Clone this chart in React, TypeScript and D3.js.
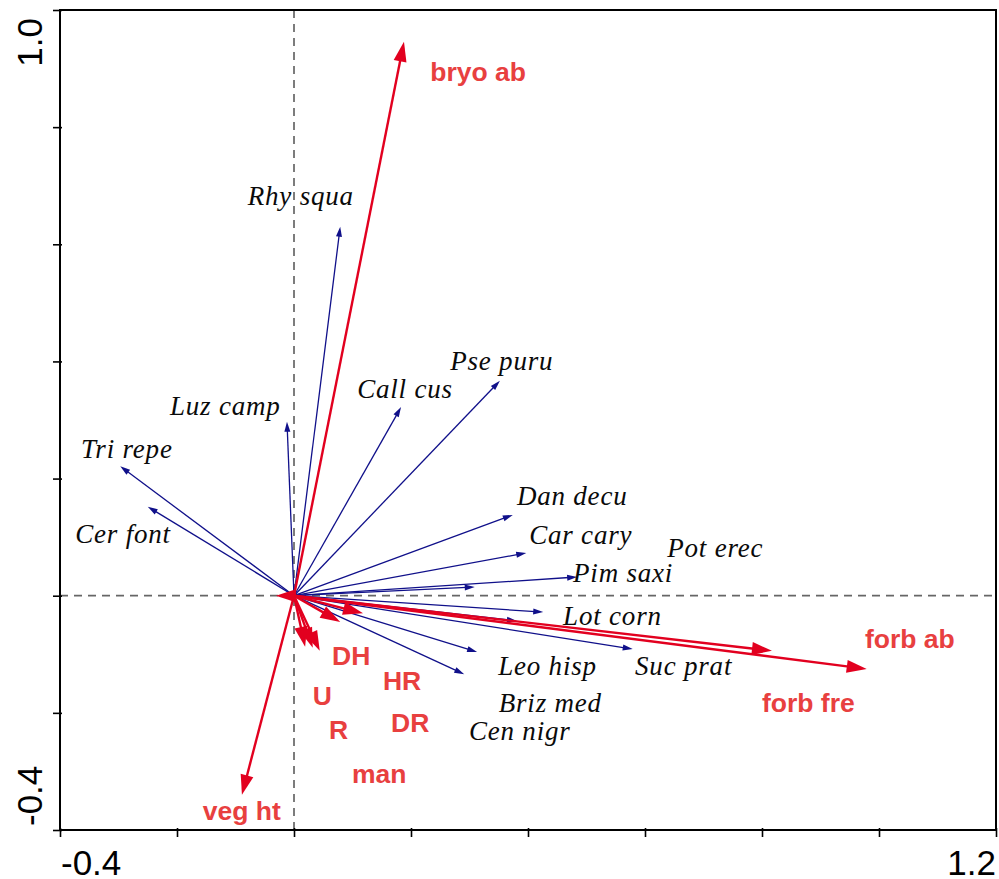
import React, { useEffect, useRef } from 'react'
import * as d3 from 'd3'

// axis ranges and ticks
const xDomain = [-0.4, 1.2]
const yDomain = [-0.4, 1.0]
const xTicks = [-0.4, -0.2, 0, 0.2, 0.4, 0.6, 0.8, 1.0, 1.2]
const yTicks = [-0.4, -0.2, 0, 0.2, 0.4, 0.6, 0.8, 1.0]
const xTickLabels = ['-0.4', '1.2']
const yTickLabels = ['-0.4', '1.0']

// species arrows (tips) and label anchors, in plot units
const spNames = ['Rhy squa', 'Luz camp', 'Tri repe', 'Cer font', 'Call cus', 'Pse puru', 'Dan decu', 'Car cary', 'Pim saxi', 'Pot erec', 'Lot corn', 'Suc prat', 'Briz med', 'Leo hisp', 'Cen nigr']
const spX = [0.079, -0.012, -0.297, -0.25, 0.183, 0.352, 0.374, 0.397, 0.484, 0.309, 0.426, 0.579, 0.381, 0.313, 0.291]
const spY = [0.63, 0.297, 0.221, 0.152, 0.322, 0.367, 0.138, 0.073, 0.032, 0.015, -0.028, -0.091, -0.043, -0.096, -0.134]
const spLabelX = [-0.079, -0.212, -0.364, -0.374, 0.108, 0.267, 0.381, 0.402, 0.477, 0.638, 0.46, 0.583, 0.35, 0.349, 0.299]
const spLabelY = [0.667, 0.309, 0.235, 0.09, 0.338, 0.386, 0.155, 0.088, 0.023, 0.066, -0.05, -0.135, -0.199, -0.135, -0.246]

// environmental variables
const envNames = ['bryo ab', 'veg ht', 'forb ab', 'forb fre', 'U', 'R', 'DH', 'HR', 'DR', 'man']
const envX = [0.188, -0.089, 0.817, 0.979, 0.019, 0.032, 0.044, 0.118, 0.079, -0.031]
const envY = [0.946, -0.34, -0.094, -0.125, -0.087, -0.089, -0.094, -0.03, -0.045, 0.0]
const envLabelX = [0.233, -0.156, 0.976, 0.8, 0.032, 0.06, 0.065, 0.152, 0.166, 0.099]
const envLabelY = [0.878, -0.383, -0.089, -0.199, -0.187, -0.245, -0.118, -0.161, -0.233, -0.32]

const W = 999
const H = 879

export default function App() {
  const ref = useRef<SVGSVGElement>(null)

  useEffect(() => {
    const svg = d3.select(ref.current)
    svg.selectAll('*').remove()

    const left = 60, right = 996, top = 10, bottom = 830
    const x = d3.scaleLinear().domain(xDomain).range([left, right])
    const y = d3.scaleLinear().domain(yDomain).range([bottom, top])

    // dashed zero lines
    svg.append('line')
      .attr('x1', left).attr('x2', right).attr('y1', y(0)).attr('y2', y(0))
      .attr('stroke', '#666').attr('stroke-width', 1.7).attr('stroke-dasharray', '8,6')
    svg.append('line')
      .attr('x1', x(0)).attr('x2', x(0)).attr('y1', top).attr('y2', bottom)
      .attr('stroke', '#666').attr('stroke-width', 1.7).attr('stroke-dasharray', '8,6')

    const arrow = (g: any, tx: number, ty: number, color: string, lw: number, hl: number, hw: number) => {
      const x0 = x(0), y0 = y(0)
      const x1 = x(tx), y1 = y(ty)
      const dx = x1 - x0, dy = y1 - y0
      const len = Math.sqrt(dx * dx + dy * dy) || 1
      const ux = dx / len, uy = dy / len
      const bx = x1 - ux * hl, by = y1 - uy * hl
      g.append('line')
        .attr('x1', x0).attr('y1', y0).attr('x2', bx + ux * 2).attr('y2', by + uy * 2)
        .attr('stroke', color).attr('stroke-width', lw)
      g.append('polygon')
        .attr('points', [
          [x1, y1],
          [bx - uy * hw / 2, by + ux * hw / 2],
          [bx + uy * hw / 2, by - ux * hw / 2]
        ].map(p => p.join(',')).join(' '))
        .attr('fill', color)
    }

    const gSp = svg.append('g')
    spNames.forEach((_, i) => arrow(gSp, spX[i], spY[i], '#10108a', 1.3, 10, 6))

    const gEnv = svg.append('g')
    envNames.forEach((_, i) => arrow(gEnv, envX[i], envY[i], '#e2001f', 2.4, 20, 13))

    // species labels
    svg.append('g').selectAll('text')
      .data(spNames)
      .enter()
      .append('text')
      .attr('x', (d, i) => x(spLabelX[i]))
      .attr('y', (d, i) => y(spLabelY[i]))
      .attr('font-family', '"Liberation Serif", "Times New Roman", serif')
      .attr('font-style', 'italic')
      .attr('font-size', 27)
      .attr('letter-spacing', 0.8)
      .attr('fill', '#0a0a0a')
      .text(d => d)

    // env labels
    svg.append('g').selectAll('text')
      .data(envNames)
      .enter()
      .append('text')
      .attr('x', (d, i) => x(envLabelX[i]))
      .attr('y', (d, i) => y(envLabelY[i]))
      .attr('font-family', '"Liberation Sans", Arial, sans-serif')
      .attr('font-weight', 'bold')
      .attr('font-size', 26.5)
      .attr('fill', '#e8403f')
      .text(d => d)

    // axes (ticks only)
    const xAxis = d3.axisBottom(x).tickValues(xTicks).tickSize(9).tickFormat(() => '')
    const gx = svg.append('g').attr('transform', `translate(0,${bottom - 2})`).call(xAxis)
    gx.select('.domain').remove()
    gx.selectAll('line').attr('stroke', '#000').attr('stroke-width', 1.6)

    const yAxis = d3.axisLeft(y).tickValues(yTicks).tickSize(9).tickFormat(() => '')
    const gy = svg.append('g').attr('transform', `translate(${left + 2},0)`).call(yAxis)
    gy.select('.domain').remove()
    gy.selectAll('line').attr('stroke', '#000').attr('stroke-width', 1.6)

    // frame
    svg.append('rect')
      .attr('x', left).attr('y', top).attr('width', right - left).attr('height', bottom - top)
      .attr('fill', 'none').attr('stroke', '#000').attr('stroke-width', 2)

    // end tick labels
    const lab = svg.append('g')
      .attr('font-family', '"Liberation Sans", Arial, sans-serif')
      .attr('font-size', 35)
      .attr('fill', '#000')
    lab.append('text').attr('x', x(xDomain[0]) + 1).attr('y', 875).attr('text-anchor', 'start').text(xTickLabels[0])
    lab.append('text').attr('x', x(xDomain[1])).attr('y', 875).attr('text-anchor', 'end').text(xTickLabels[1])
    lab.append('text')
      .attr('transform', `translate(42,${y(yDomain[0]) - 4}) rotate(-90)`)
      .attr('text-anchor', 'start').text(yTickLabels[0])
    lab.append('text')
      .attr('transform', `translate(42,${y(yDomain[1]) + 8}) rotate(-90)`)
      .attr('text-anchor', 'end').text(yTickLabels[1])
  }, [])

  return (
    <svg ref={ref} width={W} height={H} style={{ position: 'absolute', left: 0, top: 0, background: '#fff' }} />
  )
}
